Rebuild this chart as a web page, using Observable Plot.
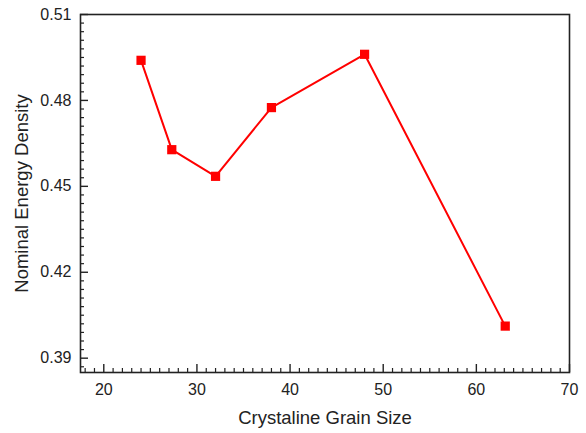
<!DOCTYPE html>
<html>
<head>
<meta charset="utf-8">
<script src="https://cdn.jsdelivr.net/npm/d3@7"></script>
<script src="https://cdn.jsdelivr.net/npm/@observablehq/plot@0.6"></script>
<style>
  html, body { margin: 0; padding: 0; background: #fff; }
  #chart { width: 586px; height: 433px; }
</style>
</head>
<body>
<div id="chart"></div>
<script>
// Data
const grainSize = [24, 27.3, 32, 38, 48, 63.1];
const energyDensity = [0.494, 0.4628, 0.4535, 0.4775, 0.4961, 0.4012];

// Axis ticks
const xTicks = [20, 30, 40, 50, 60, 70];
const yTicks = [0.39, 0.42, 0.45, 0.48, 0.51];
const xMinor = d3.range(18, 71, 1).filter(v => !xTicks.includes(v));
const yMinor = d3.range(387, 511, 3).map(v => v / 1000).filter(v => !yTicks.some(t => Math.abs(t - v) < 1e-9));

const xLabel = "Crystaline Grain Size";
const yLabel = "Nominal Energy Density";

const data = grainSize.map((x, i) => ({x, y: energyDensity[i]}));

const W = 586, H = 433;
const mL = 80, mR = 17, mT = 14, mB = 61;
const pw = W - mL - mR, ph = H - mT - mB;
const font = "'Liberation Sans', Arial, sans-serif";

const chart = Plot.plot({
  width: W,
  height: H,
  marginLeft: mL,
  marginRight: mR,
  marginTop: mT,
  marginBottom: mB,
  style: {fontFamily: font, color: "#222", background: "#fff"},
  x: {domain: [17.5, 70]},
  y: {domain: [0.385, 0.51]},
  marks: [
    // tick labels
    Plot.axisX({ticks: xTicks, tickSize: 0, tickPadding: 11, fontSize: 16, label: null, tickFormat: d3.format("d")}),
    Plot.axisY({ticks: yTicks, tickSize: 0, tickPadding: 9, fontSize: 16, label: null, tickFormat: d3.format(".2f")}),
    // inward ticks
    Plot.tickX(xTicks, {x: d => d, insetTop: ph - 8, stroke: "#222", strokeWidth: 1.4}),
    Plot.tickX(xMinor, {x: d => d, insetTop: ph - 4, stroke: "#222", strokeWidth: 1.2}),
    Plot.tickY(yTicks, {y: d => d, insetRight: pw - 8, stroke: "#222", strokeWidth: 1.4}),
    Plot.tickY(yMinor, {y: d => d, insetRight: pw - 4, stroke: "#222", strokeWidth: 1.2}),
    Plot.frame({stroke: "#222", strokeWidth: 1.6}),
    // data
    Plot.line(data, {x: "x", y: "y", stroke: "#ff0000", strokeWidth: 2}),
    Plot.dot(data, {x: "x", y: "y", symbol: "square", r: 5.2, fill: "#ff0000", stroke: "none"}),
    // axis titles
    Plot.text([xLabel], {frameAnchor: "bottom", dy: 46, fontSize: 18.5, fill: "#222", lineAnchor: "middle", textAnchor: "middle"}),
    Plot.text([yLabel], {frameAnchor: "left", dx: -58, rotate: -90, fontSize: 18.5, fill: "#222", lineAnchor: "middle", textAnchor: "middle"})
  ]
});

document.getElementById("chart").appendChild(chart);
</script>
</body>
</html>
